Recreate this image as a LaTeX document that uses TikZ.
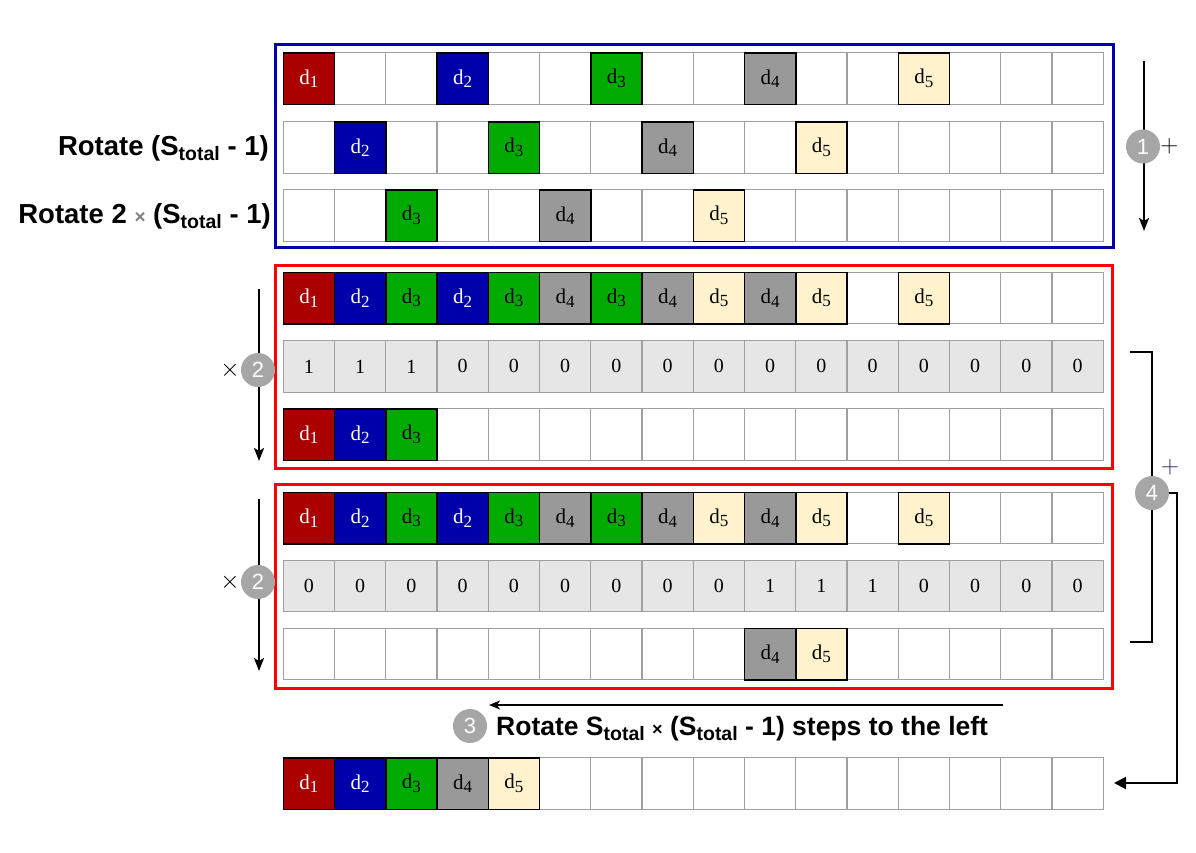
\documentclass[tikz,border=0pt]{standalone}
\usepackage{fontspec}
\setmainfont{Liberation Serif}
\newfontfamily\labfont{Liberation Sans}
\usetikzlibrary{arrows.meta}
\definecolor{cA}{RGB}{170,0,0}
\definecolor{cB}{RGB}{0,0,170}
\definecolor{cC}{RGB}{0,170,0}
\definecolor{cD}{RGB}{153,153,153}
\definecolor{cE}{RGB}{255,242,204}
\definecolor{cellgray}{RGB}{160,160,160}
\definecolor{maskfill}{RGB}{230,230,230}
\definecolor{circgray}{RGB}{166,166,166}
\definecolor{framered}{RGB}{255,0,0}
\definecolor{frameblue}{RGB}{0,0,170}
\definecolor{navyplus}{RGB}{31,31,96}
\definecolor{timesgray}{RGB}{128,128,128}
\newcommand{\dsub}[1]{\raisebox{-3.5pt}{\fontsize{17}{17}\selectfont #1}}
\newcommand{\lsub}[1]{\raisebox{-5pt}{\fontsize{19.5}{19.5}\selectfont #1}}
\tikzset{
  cellbox/.style={draw=cellgray, line width=1.3pt, minimum width=51.25pt, minimum height=51.5pt, inner sep=0pt, anchor=north west, font=\fontsize{21}{21}\selectfont},
  dcell/.style={cellbox, draw=black, line width=1.5pt},
  d1/.style={dcell, fill=cA, text=white},
  d2/.style={dcell, fill=cB, text=white},
  d3/.style={dcell, fill=cC, text=black},
  d4/.style={dcell, fill=cD, text=black},
  d5/.style={dcell, fill=cE, text=black},
  mcell/.style={cellbox, fill=maskfill, font=\fontsize{20}{20}\selectfont},
  circ/.style={circle, fill=circgray, minimum size=34pt, inner sep=0pt, text=white, font=\labfont\fontsize{22}{22}\selectfont},
  arr/.style={line width=2.2pt, -{Stealth[length=13pt,width=10pt,inset=3pt]}},
  frame/.style={line width=3pt},
  lab/.style={font=\labfont\bfseries\fontsize{27.5}{30}\selectfont, inner sep=0pt},
  labb/.style={font=\labfont\bfseries\fontsize{26.5}{30}\selectfont, inner sep=0pt},
  thinsym/.style={font=\fontsize{26}{26}\selectfont, inner sep=0pt}
}
\newcommand{\datarow}[3]{%
  \foreach \v [count=\i from 0] in {#3} {
    \ifnum\v=0
      \node[cellbox] (#1-\i) at ({282.5+51.25*\i},#2) {};
    \fi
  }
  \foreach \v [count=\i from 0] in {#3} {
    \ifnum\v>0
      \node[d\v] (#1-\i) at ({282.5+51.25*\i},#2) {d\dsub{\v}};
    \fi
  }
}
\newcommand{\maskrow}[3]{%
  \foreach \v [count=\i from 0] in {#3} {
    \node[mcell] (#1-\i) at ({282.5+51.25*\i},#2) {\v};
  }
}
\begin{document}
\begin{tikzpicture}[x=1pt,y=-1pt]
\useasboundingbox (0,0) rectangle (1196,852);
% blue frame
\draw[frame, draw=frameblue] (275,44) rectangle (1113,247);
\datarow{ba}{52}{1,0,0,2,0,0,3,0,0,4,0,0,5,0,0,0}
\datarow{bb}{121}{0,2,0,0,3,0,0,4,0,0,5,0,0,0,0,0}
\datarow{bc}{189}{0,0,3,0,0,4,0,0,5,0,0,0,0,0,0,0}
% red frame 1
\draw[frame, draw=framered] (275,265) rectangle (1112,468);
\datarow{ra}{271.5}{1,2,3,2,3,4,3,4,5,4,5,0,5,0,0,0}
\maskrow{rm}{340}{1,1,1,0,0,0,0,0,0,0,0,0,0,0,0,0}
\datarow{rr}{408}{1,2,3,0,0,0,0,0,0,0,0,0,0,0,0,0}
% red frame 2
\draw[frame, draw=framered] (275,484.5) rectangle (1112,688);
\datarow{sa}{491.5}{1,2,3,2,3,4,3,4,5,4,5,0,5,0,0,0}
\maskrow{sm}{559.5}{0,0,0,0,0,0,0,0,0,1,1,1,0,0,0,0}
\datarow{sr}{627.5}{0,0,0,0,0,0,0,0,0,4,5,0,0,0,0,0}
% final row
\datarow{fa}{757}{1,2,3,4,5,0,0,0,0,0,0,0,0,0,0,0}
% left labels
\node[lab, anchor=base east] (l1) at (269,155) {Rotate (S\lsub{total} - 1)};
\node[lab, anchor=base east] (l2) at (271,223) {Rotate 2 {\color{timesgray}\fontsize{19}{19}\selectfont ×} (S\lsub{total} - 1)};
% step 1
\coordinate (a1s) at (1144,61);
\coordinate (a1e) at (1144,231);
\draw[arr] (a1s) -- (a1e);
\node[circ] (c1) at (1143,146.5) {1};
\node[thinsym, anchor=west] (p1) at (c1.east) {$+$};
% step 2 (two)
\coordinate (a2s) at (259,289);
\coordinate (a2e) at (259,461);
\draw[arr] (a2s) -- (a2e);
\node[circ] (c2a) at (258,370) {2};
\node[thinsym, anchor=east] (x2a) at ([xshift=-1pt]c2a.west) {$\times$};
\coordinate (a3s) at (259,499);
\coordinate (a3e) at (259,671);
\draw[arr] (a3s) -- (a3e);
\node[circ] (c2b) at (258,582) {2};
\node[thinsym, anchor=east] (x2b) at ([xshift=-1pt]c2b.west) {$\times$};
% step 4 bracket
\coordinate (bt) at (1130,352);
\coordinate (bb) at (1130,642);
\draw[line width=2.5pt] (bt) -- (1152,352) -- (1152,642) -- (bb);
\node[circ] (c4) at (1152,493) {4};
\node[thinsym, text=navyplus] (p4) at (1170,467) {$+$};
\coordinate (fend) at (1114,783);
\draw[line width=2.2pt, -{Triangle[length=12pt,width=12pt]}] (c4.east) -- (1177,493) -- (1177,783) -- (fend);
% step 3
\coordinate (a4s) at (1003,705);
\coordinate (a4e) at (489,705);
\draw[line width=2pt, -{Stealth[length=11pt,width=9pt,inset=3pt]}] (a4s) -- (a4e);
\node[circ] (c3) at (470,726) {3};
\node[labb, anchor=base west] (l3) at (496,735) {Rotate S\lsub{total} {\fontsize{18}{18}\selectfont ×} (S\lsub{total} - 1) steps to the left};
\end{tikzpicture}
\end{document}
